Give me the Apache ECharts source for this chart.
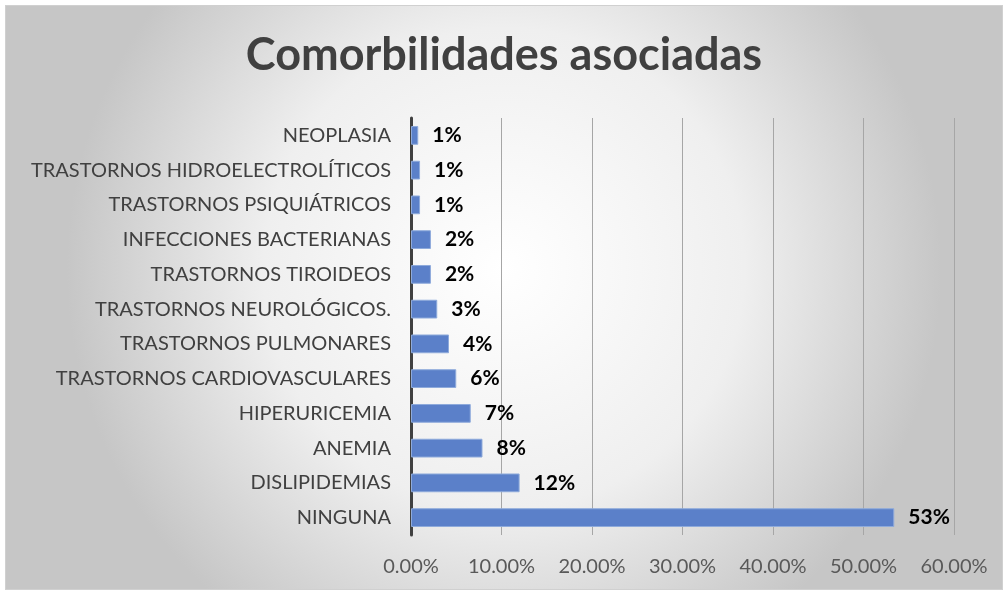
<!DOCTYPE html>
<html>
<head>
<meta charset="utf-8">
<script src="https://cdn.jsdelivr.net/npm/echarts@6/dist/echarts.min.js"></script>
<style>
  html, body { margin: 0; padding: 0; background: #fff; }
  #chart { position: absolute; left: 5px; top: 5px; width: 996px; height: 583px; border: 1px solid #d0d0d0; }
</style>
</head>
<body>
<div id="chart"></div>
<script>
// categories bottom -> top
const categories = [
  'NINGUNA', 'DISLIPIDEMIAS', 'ANEMIA', 'HIPERURICEMIA',
  'TRASTORNOS CARDIOVASCULARES', 'TRASTORNOS PULMONARES', 'TRASTORNOS NEUROLÓGICOS.',
  'TRASTORNOS TIROIDEOS', 'INFECCIONES BACTERIANAS', 'TRASTORNOS PSIQUIÁTRICOS',
  'TRASTORNOS HIDROELECTROLÍTICOS', 'NEOPLASIA'
];
// bar lengths (fraction)
const values = [0.534, 0.12, 0.079, 0.066, 0.05, 0.042, 0.029, 0.022, 0.022, 0.01, 0.01, 0.008];
// printed labels
const labels = ['53%', '12%', '8%', '7%', '6%', '4%', '3%', '2%', '2%', '1%', '1%', '1%'];

const chart = echarts.init(document.getElementById('chart'));
chart.setOption({
  backgroundColor: {
    type: 'radial', x: 0.5, y: 0.45, r: 0.75,
    colorStops: [
      { offset: 0, color: '#ffffff' },
      { offset: 0.55, color: '#efefef' },
      { offset: 1, color: '#c6c6c6' }
    ]
  },
  title: {
    text: 'Comorbilidades asociadas',
    left: 'center',
    top: 22,
    textStyle: { fontFamily: 'Lato', fontSize: 45, fontWeight: 'bold', color: '#404040' }
  },
  grid: { left: 405, right: 48, top: 112, bottom: 54, containLabel: false },
  xAxis: {
    type: 'value',
    min: 0, max: 0.6, interval: 0.1,
    axisLine: { show: false },
    axisTick: { show: false },
    splitLine: { lineStyle: { color: '#a6a6a6', width: 1 } },
    axisLabel: {
      color: '#595959', fontFamily: 'Lato', fontSize: 20, margin: 22,
      formatter: v => (v * 100).toFixed(2) + '%'
    }
  },
  yAxis: {
    type: 'category',
    data: categories,
    axisLine: { lineStyle: { color: '#404040', width: 3 } },
    axisTick: { show: false },
    axisLabel: { color: '#404040', fontFamily: 'Lato', fontSize: 20, margin: 20 }
  },
  series: [{
    type: 'bar',
    data: values,
    barWidth: '54%',
    itemStyle: { color: '#5b80c9', borderColor: '#8eaadb', borderWidth: 1 },
    label: {
      show: true,
      position: 'right',
      distance: 14,
      color: '#000',
      fontFamily: 'Lato',
      fontWeight: 'bold',
      fontSize: 21,
      formatter: p => labels[p.dataIndex]
    }
  }]
});
</script>
</body>
</html>
